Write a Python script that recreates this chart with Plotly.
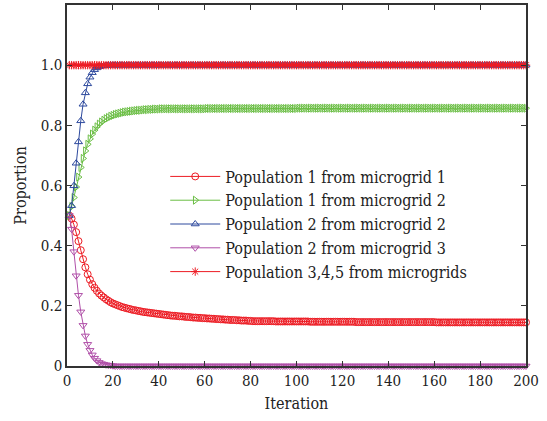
import plotly.graph_objects as go

iterations = list(range(1, 201))

pop1_mg1 = ([0.500, 0.490, 0.470, 0.445, 0.415, 0.385, 0.355, 0.328, 0.305, 0.287,
             0.272, 0.260, 0.250, 0.241, 0.234, 0.228, 0.222, 0.217, 0.212, 0.208,
             0.205, 0.202, 0.199, 0.196, 0.194, 0.192, 0.190, 0.188, 0.186, 0.185,
             0.183, 0.182, 0.180, 0.179, 0.178, 0.177, 0.176, 0.175, 0.174, 0.173,
             0.172, 0.171, 0.170, 0.169, 0.168, 0.167, 0.167, 0.166, 0.165, 0.165,
             0.164, 0.163, 0.163, 0.162, 0.161, 0.161, 0.160, 0.160, 0.159, 0.159,
             0.158, 0.158, 0.157, 0.157, 0.156, 0.156, 0.155, 0.155, 0.154, 0.154,
             0.153, 0.153, 0.153, 0.152, 0.152, 0.151, 0.151, 0.151, 0.150, 0.150]
            + [0.149] * 10 + [0.148] * 15 + [0.147] * 20 + [0.146] * 35 + [0.145] * 40)

pop1_mg2 = ([0.500, 0.530, 0.560, 0.595, 0.628, 0.660, 0.690, 0.715, 0.737, 0.755,
             0.771, 0.784, 0.795, 0.804, 0.811, 0.817, 0.822, 0.826, 0.830, 0.833,
             0.836, 0.838, 0.840, 0.842, 0.844, 0.845, 0.846, 0.847, 0.848, 0.849,
             0.850, 0.850, 0.851, 0.852, 0.852, 0.853, 0.853, 0.854, 0.854, 0.854]
            + [0.855] * 20 + [0.856] * 40 + [0.857] * 100)

pop2_mg2 = ([0.500, 0.533, 0.599, 0.674, 0.745, 0.815, 0.870, 0.908, 0.938, 0.960,
             0.975, 0.985, 0.991, 0.995, 0.997, 0.998, 0.999]
            + [1.000] * 183)

pop2_mg3 = ([0.500, 0.455, 0.380, 0.300, 0.235, 0.180, 0.135, 0.100, 0.072, 0.052,
             0.037, 0.026, 0.018, 0.012, 0.008, 0.006, 0.004, 0.003, 0.002, 0.001]
            + [0.000] * 180)

pop345 = [1.000] * 200

series = [
    ("Population 1 from microgrid 1", pop1_mg1, "#ED1C24", "circle-open"),
    ("Population 1 from microgrid 2", pop1_mg2, "#6BBE45", "triangle-right-open"),
    ("Population 2 from microgrid 2", pop2_mg2, "#2E4A9E", "triangle-up-open"),
    ("Population 2 from microgrid 3", pop2_mg3, "#B04FA8", "triangle-down-open"),
    ("Population 3,4,5 from microgrids", pop345, "#ED1C24", "asterisk-open"),
]

fig = go.Figure()
for name, vals, color, sym in series:
    fig.add_trace(go.Scatter(
        x=iterations, y=vals, name=name, mode="lines+markers",
        line=dict(color=color, width=1),
        marker=dict(symbol=sym, size=7, color=color, line=dict(color=color, width=1)),
        cliponaxis=False,
    ))

ff = "DejaVu Serif Condensed, DejaVu Serif"
axis_common = dict(
    showline=True, linecolor="#333333", linewidth=1.5, mirror="ticks",
    ticks="inside", ticklen=5, tickcolor="#333333", showgrid=False, zeroline=False,
    tickfont=dict(family=ff, size=15, color="#222222"),
)

fig.update_layout(
    width=547, height=421,
    margin=dict(l=67, r=21, t=3, b=55),
    paper_bgcolor="white", plot_bgcolor="white",
    font=dict(family=ff, size=15, color="#222222"),
    xaxis=dict(range=[0, 200], tickvals=[0, 20, 40, 60, 80, 100, 120, 140, 160, 180, 200],
               title=dict(text="Iteration", font=dict(family=ff, size=16), standoff=9),
               **axis_common),
    yaxis=dict(range=[0, 1.2], tickvals=[0, 0.2, 0.4, 0.6, 0.8, 1.0],
               ticktext=["0", "0.2", "0.4", "0.6", "0.8", "1.0"],
               title=dict(text="Proportion", font=dict(family=ff, size=16), standoff=10),
               **axis_common),
    legend=dict(x=0.214, y=0.572, xanchor="left", yanchor="top",
                bgcolor="rgba(255,255,255,0)", borderwidth=0,
                font=dict(family=ff, size=16, color="#222222"),
                itemwidth=50, tracegroupgap=0),
    showlegend=True,
)

fig.write_html("out.html", config={"displayModeBar": False},
               post_script="document.body.style.margin='0';")
